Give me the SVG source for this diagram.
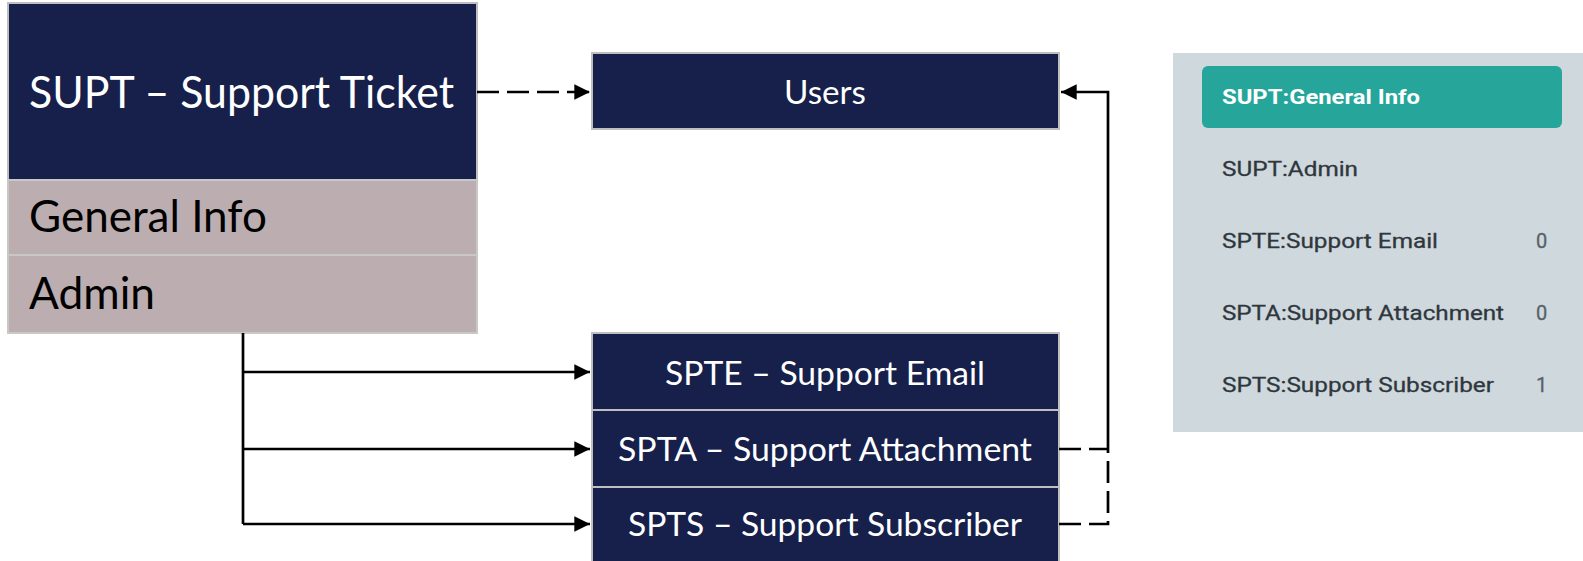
<svg xmlns="http://www.w3.org/2000/svg" width="1583" height="561" viewBox="0 0 1583 561">
  <style>
    .navy { fill: #16204a; stroke: #bfbfbf; stroke-width: 2; }
    .mauve { fill: #bcaeb0; stroke: #c8c8c8; stroke-width: 2; }
    .big { font-family: Lato, "Open Sans", sans-serif; font-size: 44px; }
    .mid { font-family: Lato, "Open Sans", sans-serif; font-size: 33px; fill: #ffffff; }
    .line { fill: none; stroke: #000000; stroke-width: 2.7; }
    .dash { stroke-dasharray: 22 8; }
    .menu { font-family: Roboto, "Liberation Sans", sans-serif; font-size: 20px; fill: #2f373e; stroke: #2f373e; stroke-width: 0.3; }
    .count { font-family: Roboto, "Liberation Sans", sans-serif; font-size: 20px; fill: #56616a; stroke: #56616a; stroke-width: 0.3; }
  </style>
  <defs>
    <marker id="arrow" viewBox="0 0 10 10" refX="10" refY="5" markerWidth="5.8" markerHeight="6" markerUnits="strokeWidth" orient="auto">
      <path d="M0,0 L10,5 L0,10 Z" fill="#000000"/>
    </marker>
  </defs>

  <rect width="1583" height="561" fill="#ffffff"/>

  <!-- parent record with its two tabs -->
  <g id="supt">
    <rect class="navy" x="8" y="3" width="469" height="177"/>
    <text class="big" x="29" y="108" fill="#ffffff" textLength="425" lengthAdjust="spacingAndGlyphs">SUPT – Support Ticket</text>
    <g id="supt-general">
      <rect class="mauve" x="8" y="180" width="469" height="75"/>
      <text class="big" x="29" y="232" fill="#000000" textLength="238" lengthAdjust="spacingAndGlyphs">General Info</text>
    </g>
    <g id="supt-admin">
      <rect class="mauve" x="8" y="255" width="469" height="78"/>
      <text class="big" x="29" y="309" fill="#000000" textLength="126" lengthAdjust="spacingAndGlyphs">Admin</text>
    </g>
  </g>

  <g id="users">
    <rect class="navy" x="592" y="53" width="467" height="76"/>
    <text class="mid" x="825" y="104" text-anchor="middle" textLength="82" lengthAdjust="spacingAndGlyphs">Users</text>
  </g>

  <g id="spte">
    <rect class="navy" x="592" y="333" width="467" height="77"/>
    <text class="mid" x="825" y="385" text-anchor="middle" textLength="320" lengthAdjust="spacingAndGlyphs">SPTE – Support Email</text>
  </g>

  <g id="spta">
    <rect class="navy" x="592" y="410" width="467" height="77"/>
    <text class="mid" x="825" y="461" text-anchor="middle" textLength="414" lengthAdjust="spacingAndGlyphs">SPTA – Support Attachment</text>
  </g>

  <g id="spts">
    <rect class="navy" x="592" y="487" width="467" height="80"/>
    <text class="mid" x="825" y="536" text-anchor="middle" textLength="394" lengthAdjust="spacingAndGlyphs">SPTS – Support Subscriber</text>
  </g>

  <!-- relationships -->
  <g id="connectors">
    <path class="line dash" d="M477,92 L590,92" marker-end="url(#arrow)"/>
    <path class="line" d="M243,333 L243,524"/>
    <path class="line" d="M243,372 L590,372" marker-end="url(#arrow)"/>
    <path class="line" d="M243,449 L590,449" marker-end="url(#arrow)"/>
    <path class="line" d="M243,524 L590,524" marker-end="url(#arrow)"/>
    <path class="line dash" d="M1059,449 L1108,449"/>
    <path class="line dash" d="M1059,524 L1108,524 L1108,449"/>
    <path class="line" d="M1108,449 L1108,92 L1061,92" marker-end="url(#arrow)"/>
  </g>

  <!-- tab menu -->
  <g id="tab-menu">
    <rect x="1173" y="53" width="410" height="379" fill="#cfd8dc"/>
    <g id="tab-general">
      <rect x="1202" y="66" width="360" height="62" rx="6" fill="#26a69a"/>
      <text x="1222" y="104" font-family="Roboto, 'Liberation Sans', sans-serif" font-size="20" font-weight="bold" fill="#ffffff" textLength="198" lengthAdjust="spacingAndGlyphs">SUPT:General Info</text>
    </g>
    <g id="tab-admin">
      <text class="menu" x="1222" y="176" textLength="136" lengthAdjust="spacingAndGlyphs">SUPT:Admin</text>
    </g>
    <g id="tab-spte">
      <text class="menu" x="1222" y="248" textLength="216" lengthAdjust="spacingAndGlyphs">SPTE:Support Email</text>
      <text class="count" x="1536" y="248">0</text>
    </g>
    <g id="tab-spta">
      <text class="menu" x="1222" y="320" textLength="282" lengthAdjust="spacingAndGlyphs">SPTA:Support Attachment</text>
      <text class="count" x="1536" y="320">0</text>
    </g>
    <g id="tab-spts">
      <text class="menu" x="1222" y="392" textLength="272" lengthAdjust="spacingAndGlyphs">SPTS:Support Subscriber</text>
      <text class="count" x="1536" y="392">1</text>
    </g>
  </g>
</svg>
